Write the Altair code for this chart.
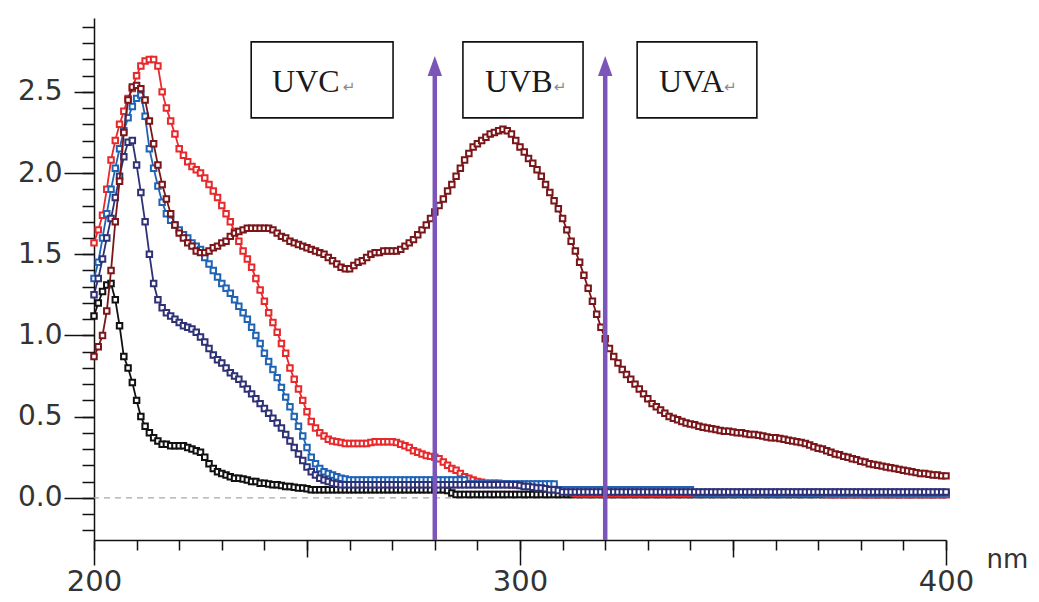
import altair as alt
import pandas as pd

# ---------------- data ----------------
wavelength = list(range(200, 401))

black = [
    1.12, 1.20, 1.27, 1.31, 1.32, 1.22, 1.06, 0.87, 0.80, 0.71,  # 200
    0.60, 0.50, 0.44, 0.40, 0.37, 0.35, 0.33, 0.33, 0.32, 0.32,  # 210
    0.32, 0.32, 0.31, 0.30, 0.29, 0.28, 0.25, 0.21, 0.18, 0.16,  # 220
    0.15, 0.14, 0.13, 0.12, 0.12, 0.115, 0.11, 0.10, 0.10, 0.09,  # 230
    0.09, 0.085, 0.08, 0.08, 0.075, 0.07, 0.07, 0.065, 0.06, 0.06,  # 240
    0.055, 0.05, 0.05, 0.05, 0.05, 0.05, 0.05, 0.05, 0.05, 0.05,  # 250
    0.05, 0.05, 0.05, 0.05, 0.05, 0.05, 0.05, 0.05, 0.05, 0.05,  # 260
    0.05, 0.05, 0.05, 0.05, 0.05, 0.05, 0.05, 0.05, 0.05, 0.05,  # 270
    0.05, 0.05, 0.05, 0.045, 0.03, 0.02, 0.02, 0.02, 0.02, 0.02,  # 280
    0.02, 0.02, 0.02, 0.02, 0.02, 0.02, 0.02, 0.02, 0.02, 0.02,  # 290
    0.02, 0.02, 0.02, 0.02, 0.02, 0.02, 0.02, 0.02, 0.02, 0.02,  # 300
    0.02, 0.02, 0.02, 0.02, 0.02, 0.02, 0.02, 0.02, 0.02, 0.02,  # 310
    0.02, 0.02, 0.02, 0.02, 0.02, 0.02, 0.02, 0.02, 0.02, 0.02,  # 320
    0.02, 0.02, 0.02, 0.02, 0.02, 0.02, 0.02, 0.02, 0.02, 0.02,  # 330
    0.02, 0.02, 0.02, 0.02, 0.02, 0.02, 0.02, 0.02, 0.02, 0.02,  # 340
    0.02, 0.02, 0.02, 0.02, 0.02, 0.02, 0.02, 0.02, 0.02, 0.02,  # 350
    0.02, 0.02, 0.02, 0.02, 0.02, 0.02, 0.02, 0.02, 0.02, 0.02,  # 360
    0.02, 0.02, 0.02, 0.02, 0.02, 0.02, 0.02, 0.02, 0.02, 0.02,  # 370
    0.02, 0.02, 0.02, 0.02, 0.02, 0.02, 0.02, 0.02, 0.02, 0.02,  # 380
    0.02, 0.02, 0.02, 0.02, 0.02, 0.02, 0.02, 0.02, 0.02, 0.02,  # 390
    0.02,  # 400
]

navy = [
    1.25, 1.35, 1.47, 1.60, 1.72, 1.85, 1.98, 2.10, 2.19, 2.20,  # 200
    2.05, 1.88, 1.70, 1.50, 1.32, 1.22, 1.17, 1.14, 1.12, 1.10,  # 210
    1.08, 1.06, 1.05, 1.04, 1.02, 0.99, 0.96, 0.92, 0.88, 0.85,  # 220
    0.83, 0.80, 0.77, 0.75, 0.73, 0.70, 0.67, 0.64, 0.61, 0.58,  # 230
    0.55, 0.52, 0.49, 0.46, 0.43, 0.39, 0.35, 0.31, 0.27, 0.23,  # 240
    0.19, 0.16, 0.14, 0.12, 0.11, 0.10, 0.09, 0.085, 0.08, 0.08,  # 250
    0.08, 0.08, 0.08, 0.08, 0.08, 0.08, 0.08, 0.08, 0.08, 0.08,  # 260
    0.08, 0.08, 0.08, 0.08, 0.08, 0.08, 0.08, 0.08, 0.08, 0.08,  # 270
    0.08, 0.08, 0.08, 0.08, 0.08, 0.08, 0.08, 0.08, 0.08, 0.08,  # 280
    0.08, 0.08, 0.08, 0.08, 0.08, 0.08, 0.08, 0.08, 0.08, 0.08,  # 290
    0.075, 0.07, 0.07, 0.065, 0.06, 0.06, 0.055, 0.05, 0.05, 0.045,  # 300
    0.035, 0.035, 0.035, 0.035, 0.035, 0.035, 0.035, 0.035, 0.035, 0.035,  # 310
    0.035, 0.035, 0.035, 0.035, 0.035, 0.035, 0.035, 0.035, 0.035, 0.035,  # 320
    0.035, 0.035, 0.035, 0.035, 0.035, 0.035, 0.035, 0.035, 0.035, 0.035,  # 330
    0.035, 0.035, 0.035, 0.035, 0.035, 0.035, 0.035, 0.035, 0.035, 0.035,  # 340
    0.035, 0.035, 0.035, 0.035, 0.035, 0.035, 0.035, 0.035, 0.035, 0.035,  # 350
    0.035, 0.035, 0.035, 0.035, 0.035, 0.035, 0.035, 0.035, 0.035, 0.035,  # 360
    0.035, 0.035, 0.035, 0.035, 0.035, 0.035, 0.035, 0.035, 0.035, 0.035,  # 370
    0.035, 0.035, 0.035, 0.035, 0.035, 0.035, 0.035, 0.035, 0.035, 0.035,  # 380
    0.035, 0.035, 0.035, 0.035, 0.035, 0.035, 0.035, 0.035, 0.035, 0.035,  # 390
    0.035,  # 400
]

blue = [
    1.35, 1.45, 1.60, 1.75, 1.90, 2.03, 2.15, 2.26, 2.34, 2.41,  # 200
    2.46, 2.48, 2.35, 2.15, 2.03, 1.92, 1.82, 1.75, 1.71, 1.68,  # 210
    1.65, 1.62, 1.60, 1.57, 1.55, 1.53, 1.48, 1.44, 1.40, 1.36,  # 220
    1.32, 1.29, 1.26, 1.22, 1.18, 1.14, 1.10, 1.05, 1.00, 0.95,  # 230
    0.89, 0.84, 0.79, 0.74, 0.68, 0.62, 0.56, 0.50, 0.44, 0.38,  # 240
    0.31, 0.25, 0.21, 0.18, 0.16, 0.15, 0.14, 0.13, 0.12, 0.115,  # 250
    0.11, 0.11, 0.11, 0.11, 0.11, 0.11, 0.11, 0.11, 0.11, 0.11,  # 260
    0.11, 0.11, 0.11, 0.11, 0.11, 0.11, 0.11, 0.11, 0.11, 0.11,  # 270
    0.11, 0.11, 0.11, 0.11, 0.11, 0.11, 0.11, 0.11, 0.085, 0.085,  # 280
    0.085, 0.085, 0.085, 0.085, 0.085, 0.085, 0.085, 0.085, 0.085, 0.085,  # 290
    0.085, 0.085, 0.085, 0.085, 0.085, 0.085, 0.085, 0.085, 0.085, 0.05,  # 300
    0.05, 0.05, 0.05, 0.05, 0.05, 0.05, 0.05, 0.05, 0.05, 0.05,  # 310
    0.05, 0.05, 0.05, 0.05, 0.05, 0.05, 0.05, 0.05, 0.05, 0.05,  # 320
    0.05, 0.05, 0.05, 0.05, 0.05, 0.05, 0.05, 0.05, 0.05, 0.05,  # 330
    0.05, 0.03, 0.03, 0.03, 0.03, 0.03, 0.03, 0.03, 0.03, 0.03,  # 340
    0.03, 0.03, 0.03, 0.03, 0.03, 0.03, 0.03, 0.03, 0.03, 0.03,  # 350
    0.03, 0.03, 0.03, 0.03, 0.03, 0.03, 0.03, 0.03, 0.03, 0.03,  # 360
    0.03, 0.03, 0.03, 0.03, 0.03, 0.03, 0.03, 0.03, 0.03, 0.03,  # 370
    0.03, 0.03, 0.03, 0.03, 0.03, 0.03, 0.03, 0.03, 0.03, 0.03,  # 380
    0.03, 0.03, 0.03, 0.03, 0.03, 0.03, 0.03, 0.03, 0.03, 0.03,  # 390
    0.03,  # 400
]

red = [
    1.57, 1.65, 1.74, 1.90, 2.08, 2.20, 2.30, 2.38, 2.46, 2.52,  # 200
    2.60, 2.66, 2.69, 2.70, 2.70, 2.66, 2.50, 2.40, 2.32, 2.24,  # 210
    2.15, 2.11, 2.07, 2.04, 2.02, 2.00, 1.97, 1.93, 1.89, 1.85,  # 220
    1.80, 1.75, 1.70, 1.64, 1.58, 1.52, 1.47, 1.42, 1.35, 1.28,  # 230
    1.21, 1.14, 1.08, 1.02, 0.95, 0.89, 0.80, 0.73, 0.67, 0.60,  # 240
    0.53, 0.47, 0.43, 0.40, 0.38, 0.36, 0.35, 0.345, 0.34, 0.335,  # 250
    0.335, 0.335, 0.335, 0.335, 0.335, 0.34, 0.345, 0.345, 0.345, 0.345,  # 260
    0.345, 0.34, 0.33, 0.32, 0.31, 0.29, 0.28, 0.27, 0.26, 0.255,  # 270
    0.25, 0.24, 0.22, 0.20, 0.18, 0.17, 0.15, 0.13, 0.12, 0.11,  # 280
    0.10, 0.095, 0.09, 0.09, 0.09, 0.09, 0.085, 0.085, 0.08, 0.08,  # 290
    0.08, 0.075, 0.075, 0.07, 0.07, 0.07, 0.07, 0.065, 0.06, 0.05,  # 300
    0.045, 0.04, 0.035, 0.025, 0.025, 0.025, 0.025, 0.025, 0.025, 0.025,  # 310
    0.025, 0.025, 0.025, 0.025, 0.025, 0.025, 0.025, 0.025, 0.025, 0.025,  # 320
    0.025, 0.025, 0.025, 0.025, 0.025, 0.025, 0.025, 0.025, 0.025, 0.025,  # 330
    0.025, 0.025, 0.025, 0.025, 0.025, 0.025, 0.025, 0.025, 0.025, 0.025,  # 340
    0.025, 0.025, 0.025, 0.025, 0.025, 0.025, 0.025, 0.025, 0.025, 0.025,  # 350
    0.025, 0.025, 0.025, 0.025, 0.025, 0.025, 0.025, 0.025, 0.025, 0.025,  # 360
    0.025, 0.025, 0.02, 0.02, 0.02, 0.02, 0.02, 0.02, 0.02, 0.02,  # 370
    0.02, 0.02, 0.02, 0.02, 0.02, 0.02, 0.02, 0.02, 0.02, 0.02,  # 380
    0.02, 0.02, 0.02, 0.02, 0.02, 0.02, 0.02, 0.02, 0.02, 0.02,  # 390
    0.02,  # 400
]

maroon = [
    0.87, 0.93, 1.00, 1.15, 1.40, 1.70, 1.95, 2.25, 2.45, 2.53,  # 200
    2.54, 2.52, 2.45, 2.32, 2.18, 2.05, 1.93, 1.84, 1.75, 1.68,  # 210
    1.63, 1.60, 1.57, 1.55, 1.52, 1.51, 1.51, 1.52, 1.54, 1.55,  # 220
    1.57, 1.58, 1.61, 1.63, 1.64, 1.65, 1.66, 1.66, 1.66, 1.66,  # 230
    1.66, 1.66, 1.65, 1.63, 1.61, 1.60, 1.58, 1.57, 1.56, 1.55,  # 240
    1.54, 1.53, 1.52, 1.51, 1.50, 1.48, 1.46, 1.44, 1.42, 1.41,  # 250
    1.41, 1.43, 1.45, 1.46, 1.48, 1.50, 1.51, 1.51, 1.52, 1.52,  # 260
    1.52, 1.52, 1.53, 1.55, 1.57, 1.59, 1.62, 1.65, 1.68, 1.72,  # 270
    1.76, 1.80, 1.84, 1.89, 1.93, 1.98, 2.03, 2.08, 2.12, 2.16,  # 280
    2.18, 2.20, 2.22, 2.24, 2.25, 2.26, 2.27, 2.26, 2.24, 2.20,  # 290
    2.16, 2.13, 2.09, 2.06, 2.02, 1.98, 1.93, 1.88, 1.83, 1.78,  # 300
    1.72, 1.65, 1.58, 1.52, 1.45, 1.37, 1.29, 1.21, 1.13, 1.05,  # 310
    0.98, 0.92, 0.87, 0.83, 0.79, 0.76, 0.73, 0.70, 0.67, 0.64,  # 320
    0.61, 0.58, 0.56, 0.54, 0.52, 0.50, 0.49, 0.48, 0.47, 0.46,  # 330
    0.455, 0.45, 0.44, 0.435, 0.43, 0.425, 0.42, 0.415, 0.41, 0.41,  # 340
    0.405, 0.40, 0.40, 0.395, 0.39, 0.39, 0.385, 0.38, 0.375, 0.37,  # 350
    0.37, 0.365, 0.36, 0.355, 0.35, 0.345, 0.34, 0.335, 0.325, 0.315,  # 360
    0.305, 0.30, 0.29, 0.28, 0.27, 0.265, 0.255, 0.25, 0.24, 0.235,  # 370
    0.225, 0.22, 0.21, 0.205, 0.20, 0.195, 0.19, 0.185, 0.18, 0.175,  # 380
    0.17, 0.165, 0.16, 0.155, 0.15, 0.15, 0.145, 0.14, 0.14, 0.135,  # 390
    0.135,  # 400
]

# tick values (three tick classes on each axis)
x_minor_ticks = [200, 210, 220, 230, 240, 250, 260, 270, 280, 290, 300,
                 310, 320, 330, 340, 350, 360, 370, 380, 390, 400]
x_mid_ticks = [250, 350]
x_major_ticks = [200, 300, 400]
y_minor_ticks = [-0.2, -0.1, 0.0, 0.1, 0.2, 0.3, 0.4, 0.5, 0.6, 0.7, 0.8, 0.9,
                 1.0, 1.1, 1.2, 1.3, 1.4, 1.5, 1.6, 1.7, 1.8, 1.9, 2.0, 2.1,
                 2.2, 2.3, 2.4, 2.5, 2.6, 2.7, 2.8, 2.9]
y_half_ticks = [0.5, 1.5, 2.5]
y_int_ticks = [0.0, 1.0, 2.0]

# annotations (data coordinates)
band_labels = ["UVC", "UVB", "UVA"]
band_box_start = [236.9, 286.6, 327.5]
band_box_end = [270.2, 314.8, 355.6]
band_box_low = [2.34, 2.34, 2.34]
band_box_high = [2.808, 2.808, 2.808]
band_text_x = [241.8, 291.8, 332.6]
band_text_y = [2.50, 2.50, 2.50]
band_mark_x = [258.4, 307.9, 347.9]
arrow_nm = [280, 320]
arrow_low = [-0.26, -0.26]
arrow_high = [2.62, 2.62]
arrow_head = [2.66, 2.66]

series = [
    ("black", black, "#111111"),
    ("red", red, "#E8282B"),
    ("blue", blue, "#1F63B5"),
    ("navy", navy, "#2E3175"),
    ("maroon", maroon, "#7A1519"),
]
bad = [(n, len(v)) for n, v, _c in series if len(v) != len(wavelength)]
if bad:
    raise SystemExit("length mismatch: %r" % bad)

# ---------------- chart ----------------
FONT = "DejaVu Sans"
xscale = alt.Scale(domain=[200, 400], nice=False, zero=False)
yscale = alt.Scale(domain=[-0.26, 2.955], nice=False, zero=False)

common = dict(tickColor="#111111", tickWidth=1.5, grid=False,
              labelFont=FONT, labelColor="#333333",
              labelOverlap=False, labelFlush=False)


def xaxis(values, size, labels, domain):
    kw = dict(common)
    kw.update(values=values, tickSize=size, orient="bottom", domain=domain,
              domainColor="#111111", domainWidth=1.5, labels=labels,
              labelFontSize=29, labelPadding=2)
    if labels:
        kw.update(title="nm", titleX=892, titleY=27, titleAlign="left",
                  titleBaseline="alphabetic", titleFontSize=26,
                  titleFontWeight="normal", titleFont=FONT,
                  titleColor="#333333", format="d")
    else:
        kw.update(title=None)
    return alt.Axis(**kw)


def yaxis(values, size, labels, domain, pad):
    kw = dict(common)
    kw.update(values=values, tickSize=size, orient="left", domain=domain,
              domainColor="#111111", domainWidth=1.5, labels=labels,
              labelFontSize=28, labelPadding=pad, format=".1f", title=None)
    return alt.Axis(**kw)


x_axes = [xaxis(x_minor_ticks, 10, False, True),
          xaxis(x_mid_ticks, 17, False, False),
          xaxis(x_major_ticks, 25, True, False)]
y_axes = [yaxis(y_minor_ticks, 12, False, True, 4),
          yaxis(y_half_ticks, 20, True, False, 12),
          yaxis(y_int_ticks, 30, True, False, 2)]

zero_line = alt.Chart(pd.DataFrame({"A": [0.0]})).mark_rule(
    color="#A8A8A8", strokeDash=[6, 5], strokeWidth=1.2
).encode(y=alt.Y("A:Q", scale=yscale, axis=None))

layers = [zero_line]
for i, (name, vals, col) in enumerate(series):
    df = pd.DataFrame({"nm": wavelength, "A": vals})
    line = alt.Chart(df).mark_line(
        color=col, strokeWidth=1.8,
        point=alt.OverlayMarkDef(shape="square", size=30, fill="white",
                                 stroke=col, strokeWidth=2.0, opacity=1),
    ).encode(
        x=alt.X("nm:Q", scale=xscale, axis=x_axes[i] if i < 3 else None),
        y=alt.Y("A:Q", scale=yscale, axis=y_axes[i] if i < 3 else None),
    )
    layers.append(line)

box_df = pd.DataFrame({
    "label": band_labels, "x1": band_box_start, "x2": band_box_end,
    "y1": band_box_low, "y2": band_box_high,
    "tx": band_text_x, "ty": band_text_y, "mx": band_mark_x,
})
boxes = alt.Chart(box_df).mark_rect(
    fill="white", stroke="#111111", strokeWidth=1.6
).encode(
    x=alt.X("x1:Q", scale=xscale, axis=None), x2="x2:Q",
    y=alt.Y("y1:Q", scale=yscale, axis=None), y2="y2:Q",
)
texts = alt.Chart(box_df).mark_text(
    font="Liberation Serif", fontSize=32, align="left", baseline="alphabetic",
    color="#1a1a1a",
).encode(
    x=alt.X("tx:Q", scale=xscale, axis=None),
    y=alt.Y("ty:Q", scale=yscale, axis=None),
    text="label:N",
)
marks = alt.Chart(box_df).mark_text(
    font="DejaVu Sans", fontSize=15, align="left", baseline="alphabetic",
    color="#8a8a8a", text="\u21b5",
).encode(
    x=alt.X("mx:Q", scale=xscale, axis=None),
    y=alt.Y("ty:Q", scale=yscale, axis=None),
)

arrow_df = pd.DataFrame({"nm": arrow_nm, "lo": arrow_low, "hi": arrow_high,
                         "head": arrow_head})
arrow_lines = alt.Chart(arrow_df).mark_rule(
    color="#7B56B8", strokeWidth=4.5
).encode(
    x=alt.X("nm:Q", scale=xscale, axis=None),
    y=alt.Y("lo:Q", scale=yscale, axis=None), y2="hi:Q",
)
arrow_heads = alt.Chart(arrow_df).mark_point(
    shape="M0,-1L0.72,1L-0.72,1Z", size=400, filled=True,
    color="#7B56B8", opacity=1,
).encode(
    x=alt.X("nm:Q", scale=xscale, axis=None),
    y=alt.Y("head:Q", scale=yscale, axis=None),
)

chart = alt.layer(
    *layers, boxes, texts, marks, arrow_lines, arrow_heads
).resolve_axis(
    x="independent", y="independent"
).properties(
    width=852, height=522,
    autosize=alt.AutoSizeParams(type="none"),
    padding={"left": 86, "top": 10, "right": 85, "bottom": 60},
    background="white",
).configure_view(strokeWidth=0)

chart.save("out.html", embed_options={"renderer": "svg", "actions": False})
